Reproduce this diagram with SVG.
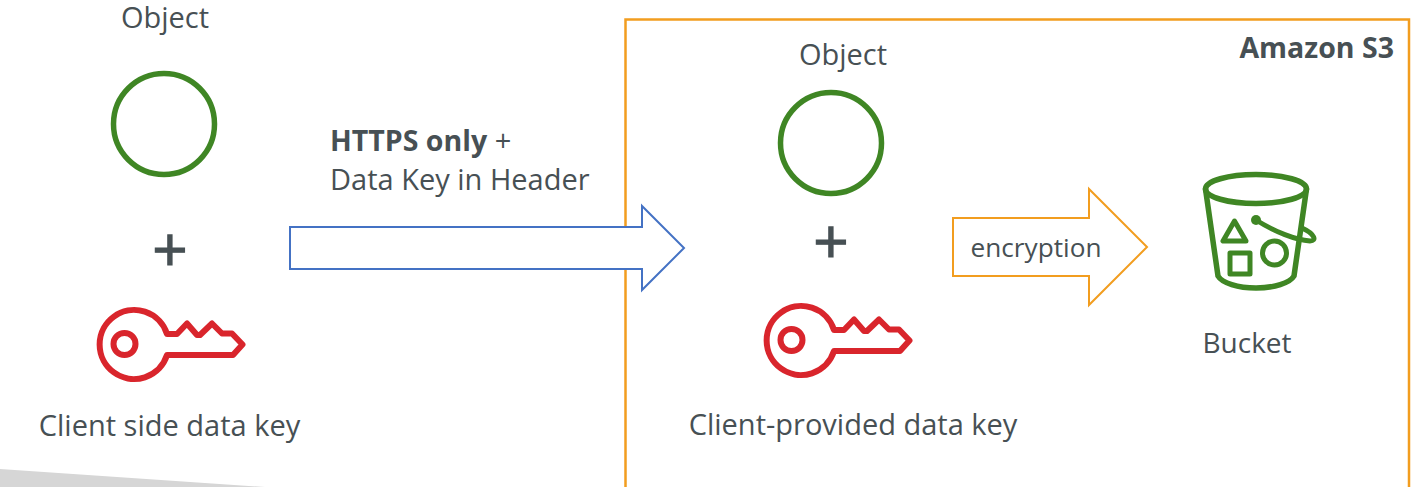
<svg xmlns="http://www.w3.org/2000/svg" width="1413" height="487" viewBox="0 0 1413 487">
<style>
text{font-family:"Open Sans","Liberation Sans",sans-serif;font-size:29px;fill:#475054}
.g{fill:none;stroke:#3f8624;stroke-width:5.500;stroke-linejoin:round;stroke-linecap:round}
.r{fill:none;stroke:#d9252c;stroke-width:6;stroke-linejoin:round}
.plus{font-size:62px;stroke:#475054;stroke-width:1.200px}
.m{text-anchor:middle}
.b{font-weight:700;font-size:28.500px}
</style>
<defs>
<g id="keyShape">
<path class="r" d="M167 334A34.500 34.500 0 1 0 167 355H233L242.500 344.500L232 333.500H222L212 323.500L200 335H197L187 323.500L177 334Z"/>
<circle class="r" cx="124.500" cy="344" r="11"/>
</g>
</defs>
<polygon id="shadow" points="0,469 265,487 0,487" fill="#d6d6d6"/>
<path id="s3-box" d="M625.500 487V19.500H1409V487" fill="none" stroke="#f29d1f" stroke-width="2.500"/>
<g id="object-left"><text class="m" x="165" y="28">Object</text><circle class="g" cx="164" cy="124" r="50.500"/></g>
<g id="plus-left"><text class="m plus" x="170" y="272">+</text></g>
<g id="key-left"><use href="#keyShape"/><text class="m" x="169.500" y="436">Client side data key</text></g>
<g id="object-right"><text class="m" x="843" y="65">Object</text><circle class="g" cx="831" cy="143" r="50.500"/></g>
<g id="plus-right"><text class="m plus" x="831" y="264">+</text></g>
<g id="key-right"><use href="#keyShape" x="667" y="-4"/><text class="m" x="853" y="435">Client-provided data key</text></g>
<g id="s3-label"><text x="1394" y="58" text-anchor="end" class="b">Amazon S3</text></g>
<g id="bucket">
<ellipse class="g" cx="1256" cy="189" rx="50.500" ry="14.500"/>
<path class="g" d="M1205.500 189L1218 276C1222 283 1238 288 1256 288S1290 283 1294 276L1306.500 189"/>
<path class="g" style="stroke-width:5" d="M1234.500 221L1223 241H1246ZM1230 253H1250V274H1230Z"/>
<circle class="g" style="stroke-width:5" cx="1274.500" cy="253" r="12"/>
<path class="g" style="stroke-width:5" d="M1256 220C1275 232 1296 240 1310 241C1317 241 1315 234 1302 228"/>
<circle cx="1256" cy="220" r="5" fill="#3f8624"/>
<text class="m" x="1247" y="353" style="font-size:28px">Bucket</text>
</g>
<g id="connectors">
<polygon id="https-arrow" points="290,227 642,227 642,206 684,248 642,290 642,269 290,269" fill="#fff" stroke="#4472c4" stroke-width="2"/>
<polygon id="encryption-arrow" points="953,218 1089,218 1089,189 1147,247 1089,305 1089,276 953,276" fill="#fff" stroke="#f29d1f" stroke-width="2"/>
<text class="m" x="1036" y="257" style="font-size:26.200px">encryption</text>
<text x="330" y="151"><tspan class="b">HTTPS only</tspan> +</text>
<text x="330" y="190">Data Key in Header</text>
</g>
</svg>
